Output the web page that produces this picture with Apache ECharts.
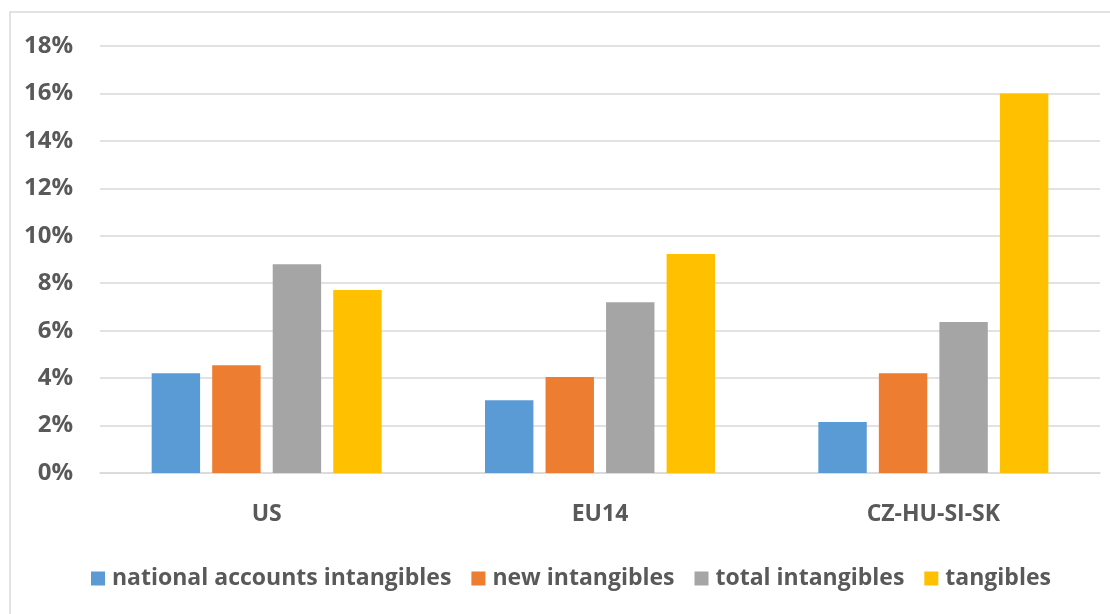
<!DOCTYPE html>
<html>
<head>
<meta charset="utf-8">
<script src="https://cdn.jsdelivr.net/npm/echarts@6/dist/echarts.min.js"></script>
<style>
  html, body { margin: 0; padding: 0; background: #ffffff; }
  #chart { width: 1110px; height: 614px; }
</style>
</head>
<body>
<div id="chart"></div>
<script>
// Investment categories by region (share, %)
const categories = ['US', 'EU14', 'CZ-HU-SI-SK'];
const nationalAccountsIntangibles = [4.2, 3.07, 2.15];
const newIntangibles = [4.54, 4.05, 4.2];
const totalIntangibles = [8.8, 7.2, 6.37];
const tangibles = [7.71, 9.23, 16.0];
const seriesNames = ['national accounts intangibles', 'new intangibles', 'total intangibles', 'tangibles'];
const seriesColors = ['#5b9bd5', '#ed7d31', '#a5a5a5', '#ffc000'];
const yTicks = { min: 0, max: 18, interval: 2 };

const labelFont = '"Open Sans", "Liberation Sans", Arial, sans-serif';
const textColor = '#595959';

const seriesData = [nationalAccountsIntangibles, newIntangibles, totalIntangibles, tangibles];

const chart = echarts.init(document.getElementById('chart'), null, { renderer: 'canvas' });

chart.setOption({
  backgroundColor: '#ffffff',
  animation: false,
  graphic: [{
    type: 'rect',
    shape: { x: 10, y: 12, width: 1110, height: 620 },
    style: { fill: 'none', stroke: '#d9d9d9', lineWidth: 1.5 },
    silent: true,
    z: -1
  }],
  grid: { left: 100, right: 10, top: 46, bottom: 141, containLabel: false },
  legend: {
    data: seriesNames,
    left: 86,
    top: 562,
    itemWidth: 14,
    itemHeight: 14,
    itemGap: 20,
    icon: 'rect',
    textStyle: {
      fontFamily: labelFont,
      fontSize: 23,
      fontWeight: 'bold',
      color: textColor,
      padding: [0, 0, 0, 2]
    }
  },
  xAxis: {
    type: 'category',
    data: categories,
    axisLine: { show: true, lineStyle: { color: '#d9d9d9', width: 1.5 } },
    axisTick: { show: false },
    axisLabel: {
      margin: 30,
      fontFamily: labelFont,
      fontSize: 23,
      fontWeight: 'bold',
      color: textColor
    }
  },
  yAxis: {
    type: 'value',
    min: yTicks.min,
    max: yTicks.max,
    interval: yTicks.interval,
    axisLine: { show: false },
    axisTick: { show: false },
    splitLine: { lineStyle: { color: '#d9d9d9', width: 1.5 } },
    axisLabel: {
      margin: 27,
      fontFamily: labelFont,
      fontSize: 24,
      fontWeight: 'bold',
      color: textColor,
      formatter: v => v + '%'
    }
  },
  series: seriesNames.map((name, i) => ({
    name,
    type: 'bar',
    data: seriesData[i],
    barGap: '25%',
    barCategoryGap: '31%',
    itemStyle: { color: seriesColors[i] }
  }))
});
</script>
</body>
</html>
